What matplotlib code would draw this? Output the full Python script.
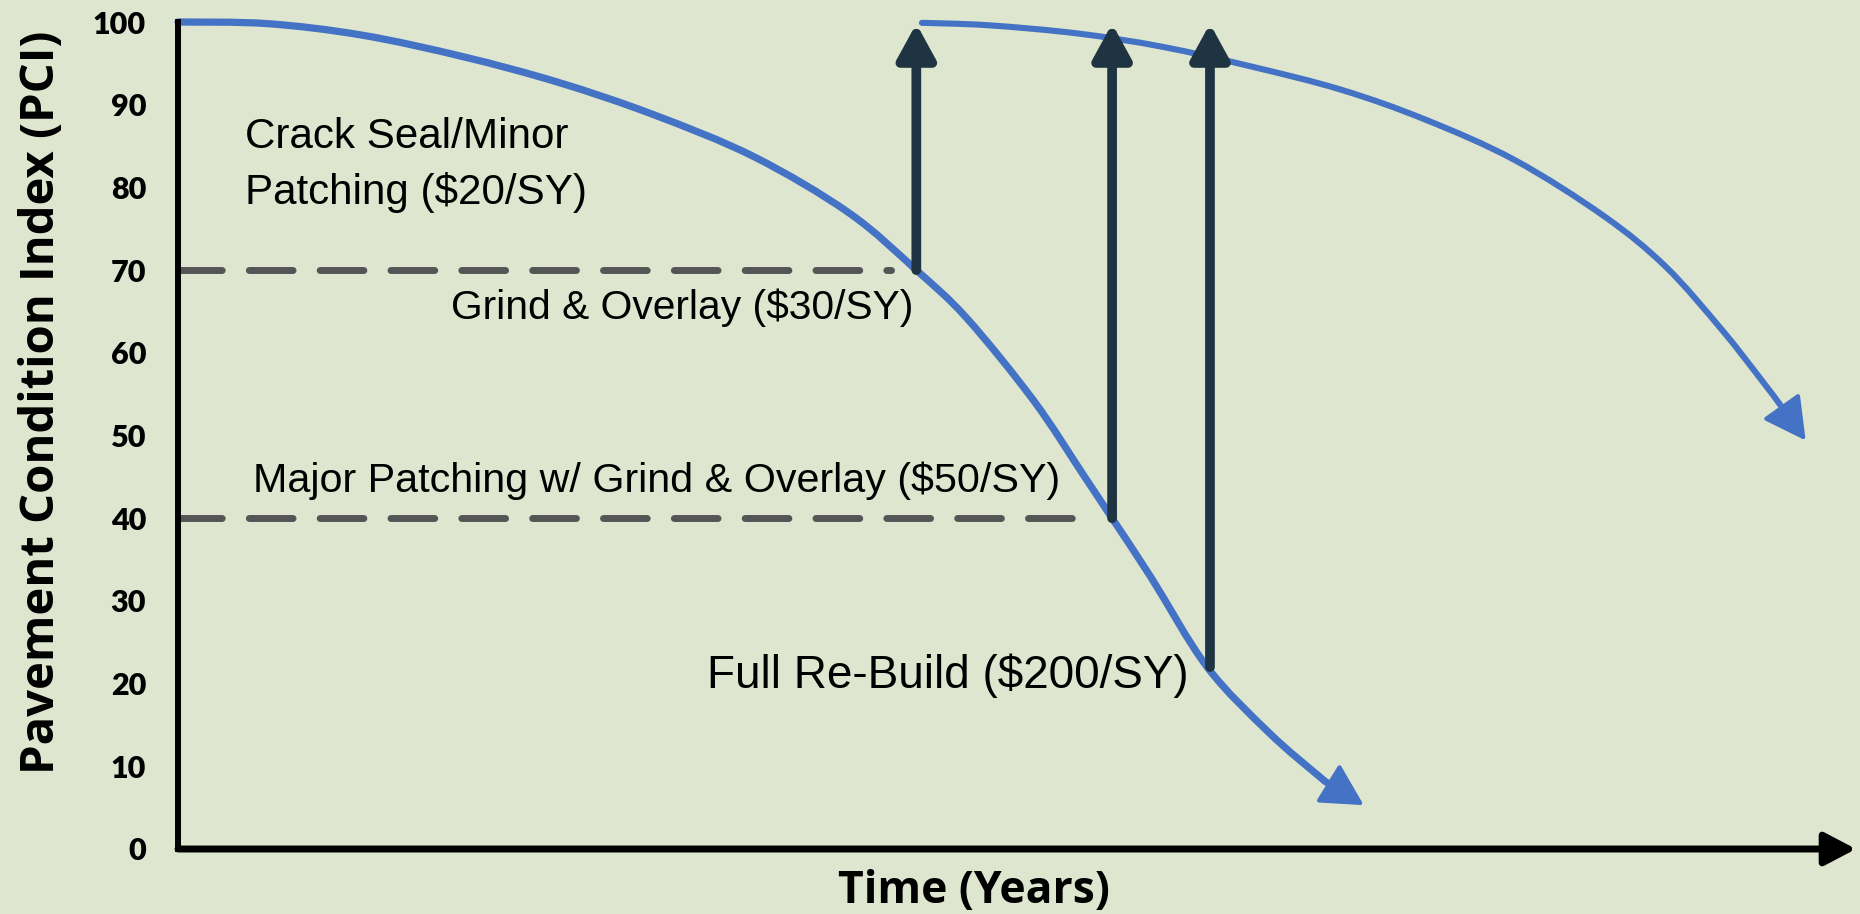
import matplotlib
matplotlib.use("Agg")
import matplotlib.pyplot as plt
from matplotlib.path import Path
from matplotlib.patches import PathPatch

# PCI deterioration curves (x = years, y = PCI); last point is the arrow tip
curve1_x = [0, 1.6, 3.3, 5.1, 6.8, 8.5, 10.3, 12.0, 13.2, 14.1, 15.3, 16.2, 16.7, 17.4, 18.4, 19.5, 20.4, 20.6, 21.2]
curve1_y = [100, 99.8, 98.4, 95.8, 92.7, 88.8, 83.7, 76.9, 70.0, 64.2, 54.2, 45.1, 40.0, 32.8, 22.0, 14.1, 8.8, 7.8, 5.3]

curve2_x = [13.3, 14.5, 16.1, 17.6, 19.2, 20.8, 22.3, 23.9, 25.5, 26.6, 27.6, 28.3, 28.7, 29.1]
curve2_y = [99.9, 99.6, 98.6, 97.0, 94.6, 91.8, 88.2, 83.3, 76.5, 70.4, 62.8, 56.8, 53.2, 49.4]

# treatments bringing PCI back to 100
treat_x = [13.2, 16.7, 18.45]
treat_from = [70, 40, 22]

# dashed thresholds
thresh_y = [70, 40]
thresh_end = [12.75, 16.0]

# annotation labels (x, baseline y, size)
labels = ["Crack Seal/Minor", "Patching ($20/SY)", "Grind & Overlay ($30/SY)",
          "Major Patching w/ Grind & Overlay ($50/SY)", "Full Re-Build ($200/SY)"]
label_x = [1.2, 1.2, 4.88, 1.34, 9.46]
label_y = [84.8, 78.0, 64.1, 43.2, 19.5]
label_size = [30.3, 30.3, 29.3, 29.7, 33]

yticks = [0, 10, 20, 30, 40, 50, 60, 70, 80, 90, 100]

bg = '#dfe6cf'
blue = '#4472c4'
dark = '#1f3442'
gray = '#555555'


def smooth_path(xs, ys):
    # bezier segments through the points (catmull-rom tangents), last point left for the arrow
    n = len(xs)
    verts = [(xs[0], ys[0])]
    codes = [Path.MOVETO]
    for i in range(n - 2):
        i0 = max(i - 1, 0)
        i3 = min(i + 2, n - 1)
        c1 = (xs[i] + (xs[i + 1] - xs[i0]) / 6, ys[i] + (ys[i + 1] - ys[i0]) / 6)
        c2 = (xs[i + 1] - (xs[i3] - xs[i]) / 6, ys[i + 1] - (ys[i3] - ys[i]) / 6)
        verts += [c1, c2, (xs[i + 1], ys[i + 1])]
        codes += [Path.CURVE4] * 3
    return Path(verts, codes)


fig = plt.figure(figsize=(18.6, 9.14), dpi=100)
fig.patch.set_facecolor(bg)
ax = fig.add_axes([178/1860, 65/914, 1678/1860, 827/914])
ax.set_facecolor(bg)
ax.set_xlim(0, 30)
ax.set_ylim(0, 100)

for s in ['top', 'right', 'bottom']:
    ax.spines[s].set_visible(False)
ax.spines['left'].set_linewidth(4.3)
ax.spines['left'].set_color('black')

ax.set_xticks([])
ax.set_yticks(yticks)
ax.set_yticklabels([str(t) for t in yticks], fontfamily=['Lato', 'DejaVu Sans'],
                   fontweight='heavy', fontsize=22)
ax.tick_params(axis='y', length=0, pad=23)

# x axis with arrow
ax.annotate('', xy=(1.0, 0), xytext=(0, 0), xycoords='axes fraction',
            arrowprops=dict(arrowstyle='-|>,head_length=1.9,head_width=1.0', lw=5,
                            color='black', shrinkA=0, shrinkB=0, mutation_scale=10),
            annotation_clip=False)

# dashed threshold lines
for y, xe in zip(thresh_y, thresh_end):
    ax.plot([0, xe], [y, y], color=gray, lw=5, dashes=(6.3, 3.9),
            dash_capstyle='round', clip_on=False)

# deterioration curves
for cx, cy, lw in [(curve1_x, curve1_y, 5.2), (curve2_x, curve2_y, 4.4)]:
    ax.add_patch(PathPatch(smooth_path(cx, cy), fill=False, edgecolor=blue, lw=lw,
                           capstyle='round', clip_on=False))
    ax.annotate('', xy=(cx[-1], cy[-1]), xytext=(cx[-2], cy[-2]),
                arrowprops=dict(arrowstyle='-|>,head_length=2.6,head_width=1.4', lw=3,
                                color=blue, shrinkA=0, shrinkB=0, mutation_scale=10))

# treatment arrows
for x, y0 in zip(treat_x, treat_from):
    ax.annotate('', xy=(x, 99.8), xytext=(x, y0),
                arrowprops=dict(arrowstyle='-|>,head_length=2.1,head_width=1.15', lw=7,
                                color=dark, shrinkA=0, shrinkB=0, mutation_scale=10,
                                capstyle='round'),
                annotation_clip=False)

for t, x, y, fs in zip(labels, label_x, label_y, label_size):
    ax.text(x, y, t, fontfamily=['Liberation Sans', 'DejaVu Sans'], fontsize=fs,
            ha='left', va='baseline', color='black')

fig.text(42/1860, 0.560, 'Pavement Condition Index (PCI)', rotation=90,
         fontfamily=['Open Sans', 'DejaVu Sans'], fontweight='bold', fontsize=34,
         ha='center', va='center')
fig.text(974/1860, 11/914, 'Time (Years)', fontfamily=['Open Sans', 'DejaVu Sans'],
         fontweight='bold', fontsize=32, ha='center', va='baseline')

fig.savefig('out.png', dpi=100, facecolor=bg)
